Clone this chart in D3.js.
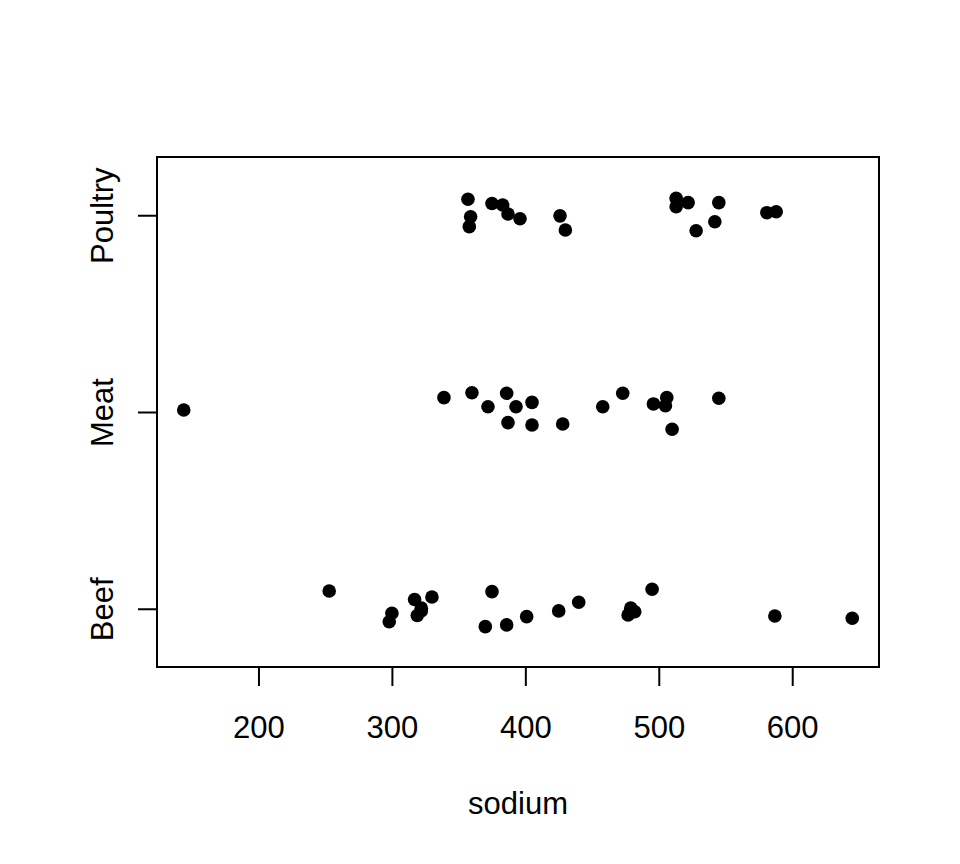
<!DOCTYPE html>
<html>
<head>
  <title>Sodium stripchart</title>
  <script src="https://d3js.org/d3.v7.min.js"></script>
  <style>
    body { margin: 0; background: #fff; }
    svg text { font-family: "Liberation Sans", Arial, sans-serif; fill: #000; }
  </style>
</head>
<body>
  <div id="chart"></div>
  <script>
    // groups, bottom to top
    const groups = ["Beef", "Meat", "Poultry"];

    // sodium values per group
    const beefSodium = [253, 300, 298, 317, 322, 322, 319, 330, 375, 370, 386, 401, 425, 440, 479, 477, 482, 495, 587, 645];
    const meatSodium = [144, 339, 360, 372, 386, 393, 405, 387, 405, 428, 458, 473, 496, 506, 505, 510, 545];
    const poultrySodium = [357, 359, 358, 375, 383, 387, 396, 426, 430, 513, 513, 522, 545, 542, 528, 581, 588];

    // vertical jitter of each point, in group units
    const beefJitter = [0.090, -0.023, -0.066, 0.047, 0.003, -0.011, -0.034, 0.060, 0.087, -0.091, -0.082, -0.040, -0.011, 0.033, 0.003, -0.032, -0.015, 0.099, -0.037, -0.048];
    const meatJitter = [0.010, 0.073, 0.098, 0.027, 0.095, 0.027, 0.049, -0.054, -0.066, -0.061, 0.027, 0.095, 0.041, 0.073, 0.032, -0.088, 0.070];
    const poultryJitter = [0.081, -0.008, -0.058, 0.060, 0.052, 0.006, -0.018, -0.003, -0.075, 0.086, 0.043, 0.064, 0.064, -0.033, -0.079, 0.013, 0.018];

    const xTicks = [200, 300, 400, 500, 600];

    (function() {
      const width = 960, height = 864;
      const plotLeft = 157, plotRight = 879, plotTop = 157, plotBottom = 667;

      // build points
      const series = [beefSodium, meatSodium, poultrySodium];
      const jitters = [beefJitter, meatJitter, poultryJitter];
      const points = [];
      series.forEach(function(vals, g) {
        vals.forEach(function(v, i) {
          points.push({ x: v, y: g + 1 + jitters[g][i] });
        });
      });

      // scales with R style 4% padding
      const ext = d3.extent(points, d => d.x);
      const pad = (ext[1] - ext[0]) * 0.04;
      const x = d3.scaleLinear()
        .domain([ext[0] - pad, ext[1] + pad])
        .range([plotLeft, plotRight]);

      const glim = [1 - 0.2, groups.length + 0.2];
      const gpad = (glim[1] - glim[0]) * 0.04;
      const y = d3.scaleLinear()
        .domain([glim[0] - gpad, glim[1] + gpad])
        .range([plotBottom, plotTop]);

      const svg = d3.select("#chart")
        .append("svg")
        .attr("width", width)
        .attr("height", height);

      // x axis
      const xAxis = svg.append("g")
        .attr("transform", "translate(0," + plotBottom + ")")
        .call(d3.axisBottom(x).tickValues(xTicks).tickSize(19).tickPadding(30).tickSizeOuter(0));
      xAxis.select(".domain").remove();
      xAxis.selectAll("line").attr("stroke", "#000").attr("stroke-width", 2);
      xAxis.selectAll("text").attr("font-size", 31).attr("fill", "#000");

      // y axis
      const yAxis = svg.append("g")
        .attr("transform", "translate(" + plotLeft + ",0)")
        .call(d3.axisLeft(y).tickValues([1, 2, 3]).tickFormat(d => groups[d - 1]).tickSize(19).tickSizeOuter(0));
      yAxis.select(".domain").remove();
      yAxis.selectAll("line").attr("stroke", "#000").attr("stroke-width", 2);
      yAxis.selectAll("text")
        .attr("font-size", 31)
        .attr("fill", "#000")
        .attr("transform", "rotate(-90)")
        .attr("x", 0)
        .attr("y", -44)
        .attr("dy", 0)
        .attr("text-anchor", "middle");

      // plot box
      svg.append("rect")
        .attr("x", plotLeft)
        .attr("y", plotTop)
        .attr("width", plotRight - plotLeft)
        .attr("height", plotBottom - plotTop)
        .attr("fill", "none")
        .attr("stroke", "#000")
        .attr("stroke-width", 2);

      // points
      svg.append("g")
        .selectAll("circle")
        .data(points)
        .join("circle")
        .attr("cx", d => x(d.x))
        .attr("cy", d => y(d.y))
        .attr("r", 6.8)
        .attr("fill", "#000");

      // axis title
      svg.append("text")
        .attr("x", (plotLeft + plotRight) / 2)
        .attr("y", 814)
        .attr("text-anchor", "middle")
        .attr("font-size", 31)
        .text("sodium");
    })();
  </script>
</body>
</html>
